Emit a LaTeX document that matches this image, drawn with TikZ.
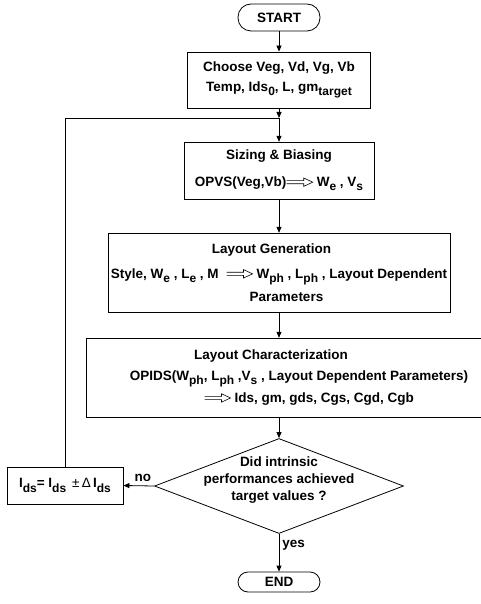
\documentclass[tikz,border=0pt]{standalone}
\usepackage{fontspec}
\setmainfont{Liberation Sans}
\usetikzlibrary{shapes.geometric,arrows.meta}

\newcommand\lo[1]{\raisebox{-0.6ex}{\fontsize{12}{12}\selectfont #1}}
\newcommand\impl{\tikz[baseline=-4.5pt, x=1pt, y=1pt, line width=0.6pt]
	\draw (0,1.6) -- (17,1.6) -- (17,4.2) -- (26,0) -- (17,-4.2) -- (17,-1.6) -- (0,-1.6);}

\tikzset{
  txt/.style={font=\fontsize{13.5}{17}\selectfont\bfseries, align=center},
  flowbox/.style={txt, draw, inner sep=0pt},
  termbox/.style={txt, draw, inner sep=0pt},
  decision/.style={draw, diamond, inner sep=0pt},
  flow/.style={-{Triangle[length=6pt,width=5pt]}}
}

\begin{document}
\begin{tikzpicture}[x=1pt, y=-1pt, line width=0.8pt]
\useasboundingbox (0,0) rectangle (481,604);
\node[termbox, rounded corners=13pt, minimum width=82pt, minimum height=27pt] (start) at (279,17.5) {START};
\node[flowbox, minimum width=183pt, minimum height=56pt] (choose) at (279,80)
	{Choose Veg, Vd, Vg, Vb\\[3pt]Temp, Ids\lo{0}, L, gm\lo{target}};
\coordinate (join) at (279,118);
\node[flowbox, minimum width=190pt, minimum height=57pt] (sizing) at (279,170.5)
	{Sizing \& Biasing\\[10pt]OPVS(Veg,Vb)\impl\ W\lo{e} , V\lo{s}};
\node[flowbox, minimum width=342pt, minimum height=79pt] (gen) at (279,272.5)
	{Layout Generation\hspace*{15pt}\\[8pt]Style, W\lo{e} , L\lo{e} , M \ \impl\ W\lo{ph} , L\lo{ph} , Layout Dependent\hspace*{9pt}\\[6pt]\hspace*{15pt}Parameters};
\node[flowbox, minimum width=397pt, minimum height=79pt] (char) at (284.5,377.5)
	{Layout Characterization\hspace*{27pt}\\[4pt]\hspace*{29pt}OPIDS(W\lo{ph}, L\lo{ph} ,V\lo{s} , Layout Dependent Parameters)\\[5pt]\hspace*{49pt}\impl\ Ids, gm, gds, Cgs, Cgd, Cgb};
\node[decision, minimum width=249pt, minimum height=95pt,
	label={[txt, yshift=6pt]center:Did intrinsic\\performances achieved\\target values ?}] (check) at (279,486) {};
\node[flowbox, minimum width=116pt, minimum height=37pt] (update) at (65,485.5)
	{I\lo{ds}= I\lo{ds} {\mdseries\,±\,Δ\,}I\lo{ds}};
\node[termbox, rounded corners=10pt, minimum width=82pt, minimum height=20pt] (finish) at (279,582) {END};

\draw[flow] (start) -- (choose);
\draw[flow] (choose) -- (join);
\draw[flow] (join) -- (sizing);
\draw[flow] (sizing) -- (gen);
\draw[flow] (gen.south) -- (gen.south |- char.north);
\draw[flow] (check.north |- char.south) -- (check.north);
\draw[flow] (check.south) -- node[txt, right, pos=.3, inner sep=3pt] {yes} (finish.north);
\draw[flow] (check.west) -- node[txt, above, xshift=4pt, inner sep=4pt] {no} (update.east);
\draw (update.north) |- (join);
\end{tikzpicture}
\end{document}
